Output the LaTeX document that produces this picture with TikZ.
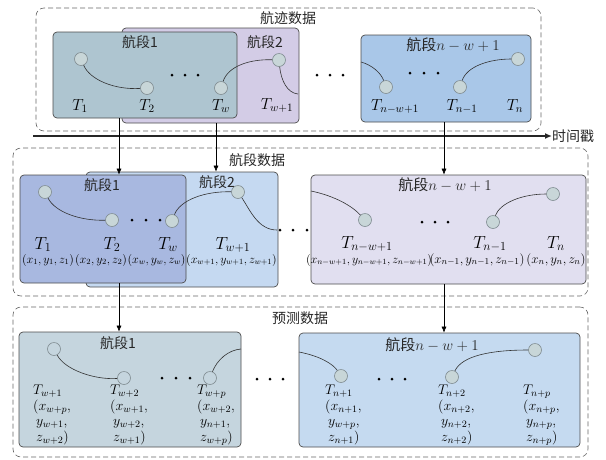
\RequirePackage{fix-cm}
\documentclass[tikz,border=0pt]{standalone}
\usepackage{fontspec}
\newfontfamily\cjk{Noto Sans CJK SC}
\usetikzlibrary{arrows.meta}
\definecolor{tsA}{RGB}{174,197,208}
\definecolor{tsB}{RGB}{211,204,230}
\definecolor{tsN}{RGB}{169,199,232}
\definecolor{msA}{RGB}{168,184,224}
\definecolor{msB}{RGB}{197,217,241}
\definecolor{msN}{RGB}{225,223,240}
\definecolor{bsA}{RGB}{197,213,222}
\definecolor{bsN}{RGB}{197,218,240}
\definecolor{ptfill}{RGB}{200,214,216}
\definecolor{ptline}{RGB}{128,140,145}
\begin{document}
\begin{tikzpicture}[x=1pt,y=-1pt,
  dashbox/.style={draw=black!60, dash pattern=on 5pt off 3pt, rounded corners=8pt, line width=0.6pt, inner sep=0pt},
  segbox/.style={draw=black!70, rounded corners=4pt, line width=0.7pt, inner sep=0pt},
  pt/.style={circle, draw=ptline, fill=ptfill, minimum size=13pt, inner sep=0pt, line width=0.6pt},
  ptopen/.style={pt, fill=none},
  link/.style={draw=black!80, line width=0.6pt},
  arr/.style={draw=black, line width=0.6pt, -{Latex[length=6pt,width=5pt]}},
  lab/.style={font=\cjk\fontsize{14}{16}\selectfont, inner sep=0pt, text=black!85},
  mlab/.style={font=\cjk\fontsize{15}{17}\selectfont, inner sep=0pt, text=black!85},
  tlabA/.style={font=\fontsize{16}{18}\selectfont, inner sep=0pt, anchor=base},
  tlabB/.style={font=\fontsize{17.5}{19}\selectfont, inner sep=0pt, anchor=base},
  tup/.style={font=\fontsize{12}{14}\selectfont, inner sep=0pt, anchor=base},
  blk/.style={font=\fontsize{14}{15.5}\selectfont, inner sep=0pt, anchor=north west, align=left},
  dotf/.style={fill=black}
]
\useasboundingbox (0,0) rectangle (606,459);

% dashed group boxes
\node[dashbox, minimum width=505pt, minimum height=123pt] (gtop) at (288.5,69.5) {};
\node[dashbox, minimum width=575pt, minimum height=148pt] (gmid) at (300.5,222) {};
\node[dashbox, minimum width=575pt, minimum height=150pt] (gbot) at (300.5,382) {};
\node[lab] (gtoplab) at (288,18) {航迹数据};
\node[lab] (gmidlab) at (257,160) {航段数据};
\node[lab] (gbotlab) at (300,318) {预测数据};

% top segments
\node[segbox, fill=tsB, minimum width=177pt, minimum height=95pt] (ts2) at (210.5,75.5) {};
\node[segbox, fill=tsA, minimum width=184pt, minimum height=86pt] (ts1) at (145,75) {};
\node[segbox, fill=tsN, minimum width=170pt, minimum height=87pt] (tsn) at (446,78.5) {};

% middle segments
\node[segbox, fill=msB, minimum width=192pt, minimum height=115pt] (ms2) at (182,229.5) {};
\node[segbox, fill=msA, minimum width=166pt, minimum height=108pt] (ms1) at (103,229) {};
\node[segbox, fill=msN, minimum width=275pt, minimum height=109pt] (msn) at (448.5,229.5) {};

% bottom segments
\node[segbox, fill=bsA, minimum width=222pt, minimum height=115pt] (bs1) at (130,389.5) {};
\node[segbox, fill=bsN, minimum width=281pt, minimum height=114pt] (bsn) at (439.5,390) {};

% timeline
\coordinate (tl0) at (33,136);
\node[lab, anchor=west] (tlab) at (552,136) {时间戳};
\draw[line width=1.6pt, draw=black!85, -{Latex[length=7pt,width=6pt]}] (tl0) -- (tlab.west);

% arrows
\coordinate (xa) at (119,0);
\coordinate (xb) at (216,0);
\coordinate (xc) at (444,0);
\draw[arr] (ts1.south -| xa) -- (ms1.north -| xa);
\draw[arr] (ts2.south -| xb) -- (ms2.north -| xb);
\draw[arr] (tsn.south -| xc) -- (msn.north -| xc);
\draw[arr] (ms1.south -| xa) -- (bs1.north -| xa);
\draw[arr] (msn.south -| xc) -- (bsn.north -| xc);

% segment labels
\node[lab] (l1) at (140,42) {航段1};
\node[lab] (l2) at (265,42) {航段2};
\node[mlab] (l3) at (453,45) {航段$n-w+1$};
\node[lab] (l4) at (102,185) {航段1};
\node[lab] (l5) at (217,182) {航段2};
\node[mlab] (l6) at (445,185) {航段$n-w+1$};
\node[lab] (l7) at (118,343) {航段1};
\node[mlab] (l8) at (432,345) {航段$n-w+1$};

% top points
\node[pt] (a1) at (81,59) {};
\node[pt] (a2) at (147,88) {};
\node[pt] (a3) at (221,88) {};
\node[pt] (a4) at (279,60) {};
\coordinate (ae1) at (298,94);
\coordinate (ae2) at (361,62);
\node[pt] (a5) at (386,87) {};
\node[pt] (a6) at (460,87) {};
\node[pt] (a7) at (518,59) {};
\draw[link] (a1) .. controls (90,80) and (115,90) .. (a2);
\draw[link] (a3) .. controls (228,66) and (250,59) .. (a4);
\draw[link] (a4) .. controls (281,80) and (287,93) .. (ae1);
\draw[link] (ae2) .. controls (372,65) and (381,73) .. (a5);
\draw[link] (a6) .. controls (467,66) and (490,59) .. (a7);

% middle points
\node[pt] (b1) at (45,192) {};
\node[pt] (b2) at (112,220) {};
\node[pt] (b3) at (172,221) {};
\node[pt] (b4) at (238,192) {};
\coordinate (be1) at (277,230);
\coordinate (be2) at (311,191);
\node[pt] (b5) at (365,220) {};
\node[pt] (b6) at (493,222) {};
\node[pt] (b7) at (553,194) {};
\draw[link] (b1) .. controls (55,212) and (80,221) .. (b2);
\draw[link] (b3) .. controls (180,200) and (205,191) .. (b4);
\draw[link] (b4) .. controls (250,210) and (258,230) .. (be1);
\draw[link] (be2) .. controls (335,196) and (352,206) .. (b5);
\draw[link] (b6) .. controls (500,203) and (522,194) .. (b7);

% bottom points
\node[ptopen] (c1) at (54,349) {};
\node[ptopen] (c2) at (124,378) {};
\node[ptopen] (c3) at (210,378) {};
\coordinate (ce1) at (241,349);
\coordinate (ce2) at (299,352);
\node[pt] (c4) at (341,376) {};
\node[pt] (c5) at (452,377) {};
\node[pt] (c6) at (535,350) {};
\draw[link] (c1) .. controls (65,370) and (95,380) .. (c2);
\draw[link] (c3) .. controls (217,360) and (228,350) .. (ce1);
\draw[link] (ce2) .. controls (320,356) and (333,364) .. (c4);
\draw[link] (c5) .. controls (462,356) and (490,350) .. (c6);

% dots
\foreach \x/\y in {172/75,185/75,198/75,317/75,330/75,343/75,410/73,424/73,438/73,
  132/220,146/220,160/220,280/230,293/230,307/230,422/222,435/222,448/222,
  162/378,176/378,190/378,257/379,270/379,283/379,379/379,392/379,405/379}
  \fill[dotf] (\x,\y) circle (1.5pt);

% top T labels
\node[tlabA] (ta1) at (80,110) {$T_1$};
\node[tlabA] (ta2) at (147,110) {$T_2$};
\node[tlabA] (ta3) at (221,110) {$T_w$};
\node[tlabA] (ta4) at (277,109) {$T_{w+1}$};
\node[tlabA] (ta5) at (395,110) {$T_{n-w+1}$};
\node[tlabA] (ta6) at (462,110) {$T_{n-1}$};
\node[tlabA] (ta7) at (515,110) {$T_n$};

% middle T labels
\node[tlabB] (tb1) at (43,249) {$T_1$};
\node[tlabB] (tb2) at (112,249) {$T_2$};
\node[tlabB] (tb3) at (168,249) {$T_w$};
\node[tlabB] (tb4) at (233,249) {$T_{w+1}$};
\node[tlabB] (tb5) at (367,248) {$T_{n-w+1}$};
\node[tlabB] (tb6) at (490,248) {$T_{n-1}$};
\node[tlabB] (tb7) at (556,248) {$T_n$};

% middle tuples
\node[tup] (u1) at (48,263) {$(x_1,y_1,z_1)$};
\node[tup] (u2) at (101,263) {$(x_2,y_2,z_2)$};
\node[tup] (u3) at (156.5,263) {$(x_w,y_w,z_w)$};
\node[tup] (u4) at (231.5,263) {$(x_{w+1},y_{w+1},z_{w+1})$};
\node[tup] (u5) at (369,263) {$(x_{n-w+1},y_{n-w+1},z_{n-w+1})$};
\node[tup, font=\fontsize{13}{15}\selectfont] (u6) at (477,263) {$(x_{n-1},y_{n-1},z_{n-1})$};
\node[tup, font=\fontsize{13}{15}\selectfont] (u7) at (556,263) {$(x_n,y_n,z_n)$};

% bottom blocks
\node[blk] (v1) at (33,385) {$T_{w+1}$\\$(x_{w+p},$\\\hspace{3pt}$y_{w+1},$\\\hspace{3pt}$z_{w+2})$};
\node[blk] (v2) at (110,385) {$T_{w+2}$\\$(x_{w+1},$\\\hspace{3pt}$y_{w+2},$\\\hspace{3pt}$z_{w+1})$};
\node[blk] (v3) at (197,385) {$T_{w+p}$\\$(x_{w+2},$\\\hspace{3pt}$y_{n+1},$\\\hspace{3pt}$z_{w+p})$};
\node[blk] (v4) at (325,385) {$T_{n+1}$\\$(x_{n+1},$\\\hspace{3pt}$y_{w+p},$\\\hspace{3pt}$z_{n+1})$};
\node[blk] (v5) at (438,385) {$T_{n+2}$\\$(x_{n+2},$\\\hspace{3pt}$y_{n+2},$\\\hspace{3pt}$z_{n+2})$};
\node[blk] (v6) at (523,385) {$T_{n+p}$\\$(x_{n+p},$\\\hspace{3pt}$y_{n+p},$\\\hspace{3pt}$z_{n+p})$};
\end{tikzpicture}
\end{document}
